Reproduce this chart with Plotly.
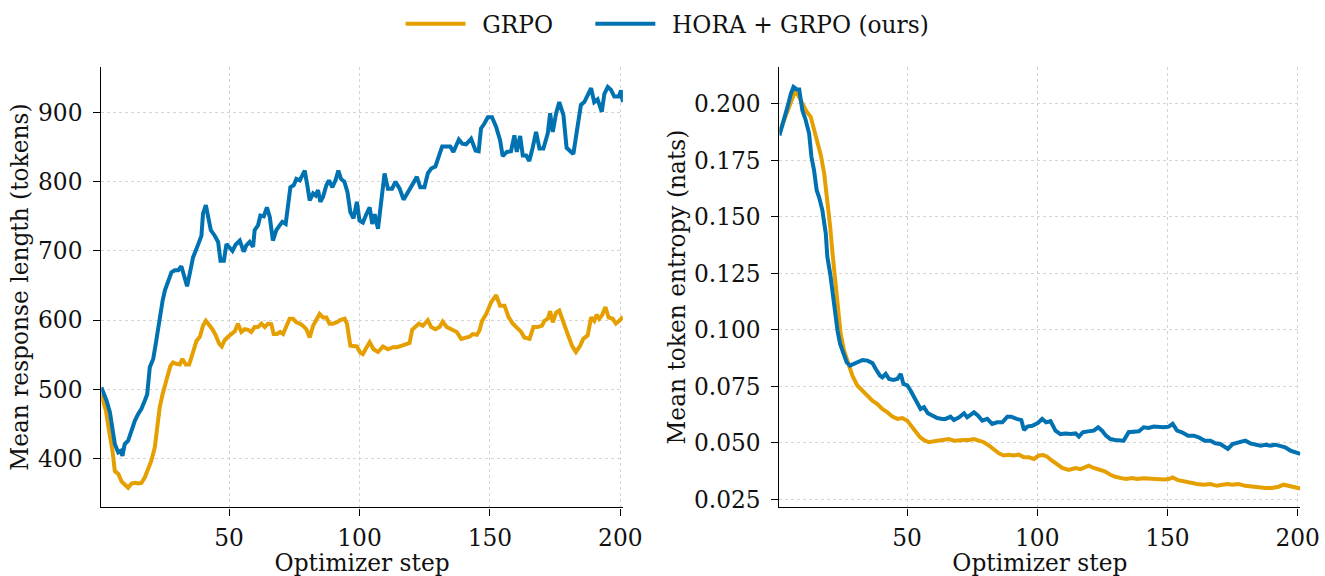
import plotly.graph_objects as go

# ---- Mean response length (tokens) ----
len_grpo_steps = [1, 2.8, 4.0, 5.3, 6.2, 7.5, 8.8, 10.0, 11.3, 12.6, 13.9, 15.1, 16.4, 17.7, 19.0, 20.2,
                  21.5, 22.4, 23.4, 24.5, 25.4, 26.6, 27.5, 28.5, 29.8, 31.1, 32.1, 33.4, 34.7, 35.9, 37.5,
                  38.8, 40.0, 41.1, 42.3, 43.6, 44.9, 46.2, 47.2, 48.3, 49.6, 50.9, 52.2, 53.4, 54.7, 56.0,
                  57.3, 58.5, 59.8, 61.1, 62.4, 63.7, 64.9, 66.2, 67.1, 68.4, 69.6, 70.7, 71.9, 73.2, 74.5,
                  75.8, 77.1, 78.3, 79.6, 80.9, 82.2, 83.4, 84.7, 86.0, 87.3, 88.5, 89.8, 91.4, 92.6, 94.3,
                  95.2, 96.5, 97.7, 99.0, 100.3, 101.3, 102.3, 103.9, 105.4, 107.1, 109.0, 110.9, 112.8,
                  114.3, 116.0, 117.9, 119.2, 120.2, 121.5, 122.8, 124.3, 126.2, 127.5, 129.1, 130.7, 131.9,
                  133.5, 135.5, 137.3, 139.0, 140.6, 142.2, 143.4, 145.0, 146.0, 147.0, 148.6, 150.5, 152.4,
                  153.9, 155.6, 157.2, 158.8, 160.3, 162.0, 163.2, 165.2, 166.7, 168.3, 170.0, 170.9, 172.2,
                  173.1, 174.1, 175.4, 176.6, 178.2, 179.8, 181.5, 183.0, 184.6, 185.8, 187.5, 188.8, 190.0,
                  190.9, 191.9, 193.0, 194.3, 195.5, 197.1, 198.3, 199.6, 201]
len_grpo = [493, 469, 440, 411, 382, 378, 367, 363, 358, 364, 365, 364, 365, 373, 387, 397,
            416, 445, 474, 493, 508, 522, 534, 539, 537, 536, 544, 536, 536, 551, 570,
            576, 592, 599, 594, 587, 578, 566, 562, 571, 576, 580, 584, 595, 583, 587,
            586, 583, 590, 590, 595, 590, 595, 594, 580, 580, 583, 580, 590, 602, 602,
            597, 595, 592, 587, 575, 592, 599, 609, 604, 604, 595, 595, 597, 600, 602,
            595, 563, 562, 562, 553, 551, 558, 568, 558, 554, 562, 558, 561,
            561, 563, 566, 567, 586, 590, 595, 592, 600, 590, 587, 590, 598,
            590, 586, 583, 573, 574, 576, 580, 579, 585, 599, 609, 626, 636,
            621, 621, 604, 595, 590, 583, 575, 573, 590, 590, 592, 599, 602,
            613, 597, 611, 614, 595, 580, 563, 554, 563, 573, 578, 604, 599,
            608, 602, 607, 619, 604, 602, 595, 599, 605]

len_hora_steps = [1, 3.0, 4.3, 5.3, 6.2, 7.5, 8.4, 9.1, 10.0, 11.3, 12.6, 13.9, 15.1, 16.4, 17.7, 18.6,
                  19.6, 20.9, 21.9, 23.2, 24.5, 25.4, 26.6, 27.9, 29.2, 30.5, 31.7, 32.6, 33.9, 34.9, 36.2,
                  37.5, 38.8, 39.4, 40.0, 41.1, 42.0, 43.0, 44.5, 45.8, 46.7, 48.0, 49.0, 50.2, 51.3, 52.5,
                  54.1, 55.6, 56.6, 57.9, 59.2, 59.8, 61.1, 62.0, 63.3, 64.5, 65.6, 66.8, 68.1, 69.4, 70.4,
                  71.7, 72.6, 73.5, 74.8, 75.8, 77.1, 78.1, 79.0, 79.9, 80.9, 82.2, 83.2, 84.1, 85.0, 86.0,
                  87.3, 88.3, 89.6, 90.8, 91.9, 92.9, 94.2, 95.4, 96.5, 97.7, 99.0, 100.0, 101.3, 102.5,
                  103.9, 104.9, 105.8, 107.1, 108.3, 109.6, 110.9, 112.5, 113.8, 115.4, 116.9, 118.5, 120.5,
                  122.0, 123.3, 124.9, 126.2, 127.5, 129.1, 130.4, 131.7, 133.5, 134.8, 136.0, 138.1, 139.4,
                  140.9, 142.8, 144.5, 145.7, 146.6, 147.9, 149.2, 150.8, 152.4, 153.9, 154.9, 156.5, 158.1,
                  159.4, 160.3, 161.6, 162.6, 163.9, 165.1, 166.4, 167.7, 169.0, 170.5, 172.2, 173.1, 174.1,
                  175.4, 176.6, 178.2, 179.4, 180.7, 182.0, 183.3, 184.9, 186.2, 187.5, 188.8, 190.0, 191.3,
                  192.9, 193.9, 195.2, 196.4, 197.7, 199.4, 200.3, 201]
len_hora = [503, 484, 467, 445, 421, 409, 411, 404, 421, 426, 443, 455, 464, 472, 484, 493,
            532, 544, 566, 599, 628, 643, 655, 669, 672, 672, 678, 665, 649, 667, 691,
            703, 715, 722, 754, 766, 749, 730, 722, 713, 686, 686, 710, 705, 700, 709,
            715, 699, 708, 713, 706, 730, 737, 751, 750, 763, 749, 715, 730, 737, 742,
            739, 768, 792, 795, 804, 802, 809, 816, 797, 773, 783, 780, 788, 771, 778,
            795, 802, 792, 802, 816, 804, 800, 785, 756, 747, 771, 744, 741, 752,
            763, 739, 753, 732, 773, 812, 790, 790, 800, 790, 774, 785, 797,
            807, 792, 792, 812, 819, 822, 836, 851, 851, 851, 843, 861, 855,
            854, 862, 845, 844, 877, 884, 893, 893, 879, 860, 837, 843, 844,
            867, 843, 866, 838, 838, 830, 849, 872, 848, 848, 870, 899, 872,
            899, 915, 896, 849, 845, 840, 872, 911, 915, 924, 935, 915, 919,
            901, 927, 937, 933, 923, 923, 932, 915]

# ---- Mean token entropy (nats) ----
ent_grpo_steps = [1, 2.2, 4.1, 5.6, 6.9, 8.2, 9.8, 11.5, 13.0, 14.3, 15.6, 16.9, 18.2, 19.4, 20.5, 21.4,
                  22.4, 23.5, 24.5, 25.8, 27.4, 29.0, 30.9, 32.9, 34.8, 36.7, 38.6, 40.5, 42.5, 44.4, 46.3,
                  48.2, 50.1, 51.7, 53.3, 55.0, 56.5, 58.4, 60.4, 62.3, 64.2, 66.1, 68.0, 70.0, 71.9, 73.8,
                  75.7, 77.6, 79.5, 81.5, 83.4, 85.3, 87.2, 89.1, 91.0, 92.9, 94.9, 96.8, 98.7, 100.6, 102.3,
                  103.8, 105.7, 107.6, 109.6, 112.1, 114.7, 116.6, 118.5, 119.8, 121.7, 123.6, 125.9, 128.1,
                  130.0, 132.3, 134.1, 136.4, 138.3, 140.9, 143.5, 146.0, 148.6, 150.5, 152.0, 154.1, 156.2,
                  158.8, 161.4, 163.9, 166.5, 169.0, 171.0, 172.9, 175.0, 177.3, 179.9, 182.5, 185.0, 187.6,
                  190.1, 192.7, 194.6, 196.5, 199.1, 201]
ent_grpo = [0.1876, 0.1913, 0.1972, 0.2024, 0.2053, 0.2038, 0.2002, 0.1965, 0.1943, 0.1884, 0.1824,
            0.1773, 0.1691, 0.1573, 0.1455, 0.1337, 0.1219, 0.1086, 0.0983, 0.0909, 0.0857, 0.0798,
            0.0754, 0.0731, 0.0709, 0.0687, 0.0672, 0.0650, 0.0635, 0.0616, 0.0606, 0.0610, 0.0598,
            0.0576, 0.0551, 0.0525, 0.0513, 0.0503, 0.0507, 0.0510, 0.0513, 0.0517, 0.0510, 0.0513,
            0.0513, 0.0513, 0.0517, 0.0510, 0.0503, 0.0488, 0.0469, 0.0454, 0.0444, 0.0447, 0.0444,
            0.0448, 0.0436, 0.0436, 0.0429, 0.0444, 0.0446, 0.0439, 0.0421, 0.0404, 0.0389, 0.0380,
            0.0389, 0.0384, 0.0395, 0.0399, 0.0389, 0.0384, 0.0374, 0.0359, 0.0350, 0.0344, 0.0340,
            0.0344, 0.0340, 0.0343, 0.0340, 0.0341, 0.0338, 0.0340, 0.0347, 0.0335, 0.0330, 0.0321,
            0.0318, 0.0315, 0.0318, 0.0310, 0.0315, 0.0318, 0.0315, 0.0318, 0.0310, 0.0306, 0.0303,
            0.0300, 0.0300, 0.0306, 0.0315, 0.0310, 0.0303, 0.0298]

ent_hora_steps = [1, 2.2, 4.1, 5.4, 6.4, 7.7, 8.6, 9.8, 11.1, 12.4, 13.3, 14.3, 15.3, 16.2, 17.5, 18.8,
                  19.4, 20.5, 21.4, 22.2, 23.3, 24.3, 25.6, 26.8, 28.1, 29.7, 31.2, 32.9, 34.8, 36.7, 38.0,
                  39.6, 40.5, 41.8, 43.1, 44.7, 46.3, 47.6, 48.6, 50.1, 51.4, 52.7, 54.0, 55.2, 56.5, 58.0,
                  59.7, 61.6, 63.5, 64.8, 66.7, 68.0, 70.0, 71.9, 73.1, 75.7, 77.2, 78.9, 80.8, 82.7, 84.6,
                  86.6, 88.5, 90.0, 92.1, 93.9, 94.9, 96.2, 98.1, 100.2, 101.9, 103.4, 105.1, 107.0, 108.9,
                  110.8, 112.8, 114.7, 116.0, 117.5, 119.5, 121.7, 123.4, 124.9, 126.4, 128.1, 129.8, 131.6,
                  133.2, 135.1, 137.1, 139.0, 140.9, 142.8, 144.7, 146.7, 148.6, 150.5, 152.0, 153.7, 155.6,
                  157.9, 160.1, 162.0, 164.3, 166.5, 168.4, 170.3, 172.2, 173.2, 175.0, 177.3, 179.9, 181.8,
                  183.7, 185.7, 187.8, 189.5, 191.4, 193.3, 195.2, 197.2, 199.1, 201]
ent_hora = [0.1861, 0.1906, 0.1987, 0.2046, 0.2075, 0.2064, 0.2064, 0.1972, 0.1928, 0.1869, 0.1765,
            0.1706, 0.1618, 0.1588, 0.1529, 0.1426, 0.1322, 0.1248, 0.1160, 0.1086, 0.0997, 0.0938,
            0.0894, 0.0857, 0.0842, 0.0850, 0.0857, 0.0867, 0.0864, 0.0853, 0.0827, 0.0798, 0.0790,
            0.0805, 0.0783, 0.0779, 0.0783, 0.0805, 0.0761, 0.0754, 0.0731, 0.0702, 0.0672, 0.0650,
            0.0658, 0.0631, 0.0621, 0.0610, 0.0606, 0.0606, 0.0616, 0.0601, 0.0613, 0.0631, 0.0613,
            0.0635, 0.0621, 0.0598, 0.0606, 0.0584, 0.0591, 0.0591, 0.0616, 0.0616, 0.0606, 0.0601,
            0.0557, 0.0572, 0.0576, 0.0588, 0.0606, 0.0591, 0.0596, 0.0554, 0.0539, 0.0542, 0.0539,
            0.0542, 0.0528, 0.0547, 0.0551, 0.0554, 0.0569, 0.0554, 0.0532, 0.0517, 0.0513, 0.0510,
            0.0510, 0.0547, 0.0551, 0.0551, 0.0569, 0.0566, 0.0572, 0.0569, 0.0569, 0.0572, 0.0584,
            0.0554, 0.0547, 0.0532, 0.0532, 0.0525, 0.0510, 0.0510, 0.0498, 0.0495, 0.0483, 0.0473,
            0.0495, 0.0503, 0.0510, 0.0498, 0.0495, 0.0488, 0.0492, 0.0488, 0.0492, 0.0488, 0.0480,
            0.0466, 0.0458, 0.0451]

series_names = ["GRPO", "HORA + GRPO (ours)"]
series_colors = ["#E69F00", "#0072B2"]

FONT = "DejaVu Serif"
FS = 23.3
INK = "#111111"
LW = 4.0

W, H = 1325, 576
KX, KY = 1 / 0.986, 1 / 0.990   # page-to-figure pixel scaling


def fx(p):
    return p * KX / W


def fy(p):
    return 1 - p * KY / H


fig = go.Figure()

for (steps, vals), name, color, lg in [
    ((len_grpo_steps, len_grpo), series_names[0], series_colors[0], "legend"),
    ((len_hora_steps, len_hora), series_names[1], series_colors[1], "legend2"),
]:
    fig.add_trace(go.Scatter(x=steps, y=vals, mode="lines", name="\u2002" + name,
                             line=dict(color=color, width=LW), showlegend=True, legend=lg,
                             xaxis="x", yaxis="y"))

for (steps, vals), name, color in [
    ((ent_grpo_steps, ent_grpo), series_names[0], series_colors[0]),
    ((ent_hora_steps, ent_hora), series_names[1], series_colors[1]),
]:
    fig.add_trace(go.Scatter(x=steps, y=vals, mode="lines", name=name,
                             line=dict(color=color, width=LW), showlegend=False,
                             xaxis="x2", yaxis="y2"))

left_px = (101.4, 623.6)
right_px = (780.3, 1301.7)
top_px, bottom_px = 66.7, 506.7
ydom = [fy(bottom_px), fy(top_px)]

common_x = dict(
    range=[1, 201], tickvals=[50, 100, 150, 200], ticks="outside", ticklen=7, tickwidth=1.3,
    tickcolor="black", showline=True, linecolor="black", linewidth=1.3, zeroline=False,
    showgrid=True, gridcolor="#d4d4d4", griddash="dot", gridwidth=1,
    tickfont=dict(family=FONT, size=FS, color=INK),
    title=dict(text="Optimizer step", font=dict(family=FONT, size=FS, color=INK), standoff=4),
    ticklabelstandoff=3,
)
common_y = dict(
    ticks="outside", ticklen=7, tickwidth=1.3, tickcolor="black", showline=True,
    linecolor="black", linewidth=1.3, zeroline=False, showgrid=True, gridcolor="#d4d4d4",
    griddash="dot", gridwidth=1, tickfont=dict(family=FONT, size=FS, color=INK),
    ticklabelstandoff=6,
)

legend_common = dict(orientation="h", xanchor="left", yanchor="middle", y=fy(24),
                     font=dict(family=FONT, size=FS, color=INK), bgcolor="rgba(0,0,0,0)",
                     itemwidth=60, borderwidth=0)

fig.update_layout(
    width=W, height=H,
    margin=dict(l=0, r=0, t=0, b=0),
    paper_bgcolor="white", plot_bgcolor="white",
    font=dict(family=FONT, size=FS, color=INK),
    xaxis=dict(domain=[fx(left_px[0]), fx(left_px[1])], anchor="y", **common_x),
    yaxis=dict(domain=ydom, anchor="x", range=[329.6, 966.0],
               tickvals=[400, 500, 600, 700, 800, 900],
               title=dict(text="Mean response length (tokens)",
                          font=dict(family=FONT, size=FS, color=INK), standoff=2),
               **common_y),
    xaxis2=dict(domain=[fx(right_px[0]), fx(right_px[1])], anchor="y2", **common_x),
    yaxis2=dict(domain=ydom, anchor="x2", range=[0.02146, 0.21644],
                tickvals=[0.025, 0.05, 0.075, 0.1, 0.125, 0.15, 0.175, 0.2],
                tickformat=".3f",
                title=dict(text="Mean token entropy (nats)",
                           font=dict(family=FONT, size=FS, color=INK), standoff=1),
                **common_y),
    legend=dict(x=fx(406 - 5), **legend_common),
    legend2=dict(x=fx(596 - 5), **legend_common),
    showlegend=True,
)

fig.write_html("out.html")
